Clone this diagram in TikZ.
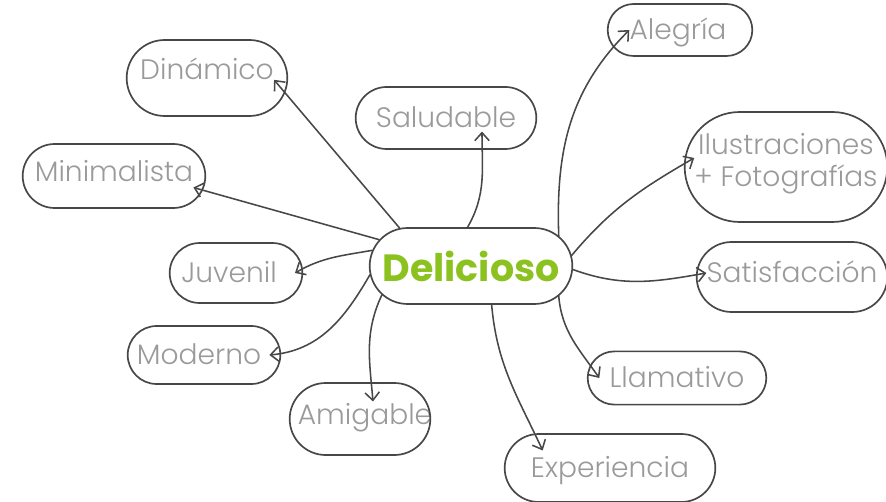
\documentclass[tikz,border=0pt]{standalone}
\usepackage{fontspec}
\setmainfont{Poppins}
\newfontfamily\ideafont{Poppins Light}
\usepackage{tikz}
\usetikzlibrary{positioning}
\usetikzlibrary{arrows.meta,shapes.misc}
\definecolor{linegray}{HTML}{474747}
\definecolor{textgray}{HTML}{9A9A9A}
\definecolor{leafgreen}{HTML}{8CC21F}
\tikzstyle{idea edge}=[-{Straight Barb[length=2mm,width=3.6mm]},line width=1.1pt,draw=linegray,line cap=round]
\tikzstyle{idea}=[inner sep=0pt,text height=15pt,text depth=1pt,text=textgray,font=\ideafont\fontsize{20}{24}\selectfont]
\tikzstyle{idea oval}=[draw=linegray,line width=1.2pt,rounded rectangle]
\tikzstyle{root}=[draw=linegray,line width=1.2pt,rounded rectangle,minimum width=5.3cm,minimum height=1.9cm,text=leafgreen,font=\bfseries\fontsize{27}{30}\selectfont]
\newcommand{\ideanode}[4][]{
  \node [idea, #1] (#2) {#3};
  \node [idea oval, #4] (#2 oval) at (#2) {}
}
\newcommand{\rootnode}[1][]{
  \node [root, #1] (root) {Delicioso}
}

\begin{document}
\begin{tikzpicture}[on grid]
        \useasboundingbox (0,0) rectangle (22.15,12.525);
        \rootnode[at={(11.775,5.875)}];
        % left side
        \ideanode[above left=4.9cm and 6.6cm of root]{dinamico}{Dinámico}{minimum width=4.25cm,minimum height=1.9cm,yshift=-0.2cm};
        \ideanode[above left=2.35cm and 8.925cm of root]{minimalista}{Minimalista}{minimum width=4.8cm,minimum height=1.6cm,yshift=-0.1cm};
        \ideanode[below left=0.175cm and 6.05cm of root]{juvenil}{Juvenil}{minimum width=3.55cm,minimum height=1.5cm,xshift=0.175cm};
        \ideanode[below left=2.225cm and 6.8cm of root]{moderno}{Moderno}{minimum width=4.05cm,minimum height=1.45cm,xshift=0.125cm};
        \ideanode[below left=3.725cm and 2.65cm of root]{amigable}{Amigable}{minimum width=3.75cm,minimum height=1.8cm,xshift=-0.125cm,yshift=-0.1cm};
        \ideanode[above left=3.7cm and 0.625cm of root]{saludable}{Saludable}{minimum width=4.75cm,minimum height=1.55cm};
        % right side
        \ideanode[above right=5.9cm and 5.175cm of root]{alegria}{Alegría}{minimum width=3.85cm,minimum height=1.3cm,xshift=0.05cm};
        \ideanode[above right=2.55cm and 7.875cm of root,align=center,text height=,text depth=,font=\ideafont\fontsize{20}{23}\selectfont]{ilustraciones}{Ilustraciones\\+ Fotografías}{minimum width=5.3cm,minimum height=2.75cm,yshift=-0.075cm};
        \ideanode[below right=0.175cm and 8.025cm of root]{satisfaccion}{Satisfacción}{minimum width=5cm,minimum height=1.75cm,yshift=-0.1cm};
        \ideanode[below right=2.8cm and 5.15cm of root]{llamativo}{Llamativo}{minimum width=4.7cm,minimum height=1.33cm};
        \ideanode[below right=5.05cm and 3.475cm of root]{experiencia}{Experiencia}{minimum width=5.5cm,minimum height=1.7cm};

            \draw[idea edge] (root.152) -- (dinamico.base east);
            \draw[idea edge] (root.164) -- ([yshift=-0.1cm]minimalista.south east);
            \draw[idea edge] (root.171) to[out=190,in=30] ([xshift=0.45cm]juvenil.east);
            \draw[idea edge] (root.185) to[out=240,in=5] ([xshift=0.2cm]moderno.east);
            \draw[idea edge] (root.198) to[out=245,in=95] ([xshift=0.2cm,yshift=0.05cm]amigable.north);
            \draw[idea edge] (root.95) to[out=60,in=-90] ([xshift=0.9cm,yshift=-0.05cm]saludable.south);

            \draw[idea edge] (root.19) to[out=92,in=225] (alegria.west);
            \draw[idea edge] (root.6) to[out=50,in=210] ([yshift=0.15cm]ilustraciones.west);
            \draw[idea edge] (root.-2) to[out=-20,in=190] (satisfaccion.west);
            \draw[idea edge] (root.-19) to[out=-85,in=125] ([xshift=-0.25cm]llamativo.west);
            \draw[idea edge] (root.-62) to[out=-85,in=115] ([xshift=0.3cm,yshift=0.15cm]experiencia.north west);
\end{tikzpicture}
\end{document}
